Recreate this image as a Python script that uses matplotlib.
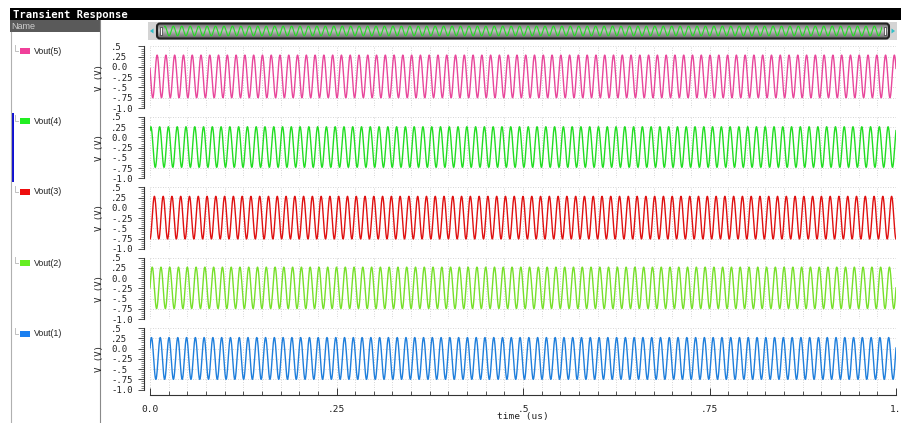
import numpy as np
import matplotlib
matplotlib.use("Agg")
import matplotlib.pyplot as plt
from matplotlib.patches import Rectangle, FancyBboxPatch, Polygon
from matplotlib.ticker import MultipleLocator

# ---------------- data ----------------
signal_names = ["Vout(5)", "Vout(4)", "Vout(3)", "Vout(2)", "Vout(1)"]
line_colors = ["#e8479b", "#22dd22", "#e01010", "#77e02a", "#1f7fdc"]
legend_colors = ["#f0409a", "#22ee22", "#ee0d0d", "#66ee22", "#1a7ff0"]
peak_v = [0.29, 0.26, 0.28, 0.27, 0.27]
trough_v = [-0.75, -0.73, -0.76, -0.74, -0.75]
phase_deg = [68, -36, 180, -90, -60]
freq_cycles_per_us = 85.0
t_us = np.linspace(0.0, 1.0, 6000)

y_ticks = [0.5, 0.25, 0.0, -0.25, -0.5, -0.75, -1.0]
y_tick_labels = [".5", ".25", "0.0", "-.25", "-.5", "-.75", "-1.0"]
x_ticks = [0.0, 0.25, 0.5, 0.75, 1.0]
x_tick_labels = ["0.0", ".25", ".5", ".75", "1."]


def waveform(i):
    mid = (peak_v[i] + trough_v[i]) / 2
    amp = (peak_v[i] - trough_v[i]) / 2
    return mid + amp * np.cos(2 * np.pi * freq_cycles_per_us * t_us + np.deg2rad(phase_deg[i]))


# ---------------- layout ----------------
W, H = 901, 423
fig = plt.figure(figsize=(W / 100, H / 100), dpi=100)
fig.patch.set_facecolor("white")


def rect(x0, y0, x1, y1):
    return [x0 / W, 1 - y1 / H, (x1 - x0) / W, (y1 - y0) / H]


MONO = "DejaVu Sans Mono"

# background / chrome axes in pixel coordinates
bg = fig.add_axes([0, 0, 1, 1], zorder=0)
bg.set_xlim(0, W)
bg.set_ylim(H, 0)
bg.axis("off")
bg.add_patch(Rectangle((10, 8), W - 10, 12, facecolor="black", edgecolor="none"))
bg.text(13, 14.5, "Transient Response", color="white", fontsize=7.6, fontweight="bold",
        family=MONO, va="center", ha="left")
bg.add_patch(Rectangle((10, 20), 90, 12, facecolor="#5a5a5a", edgecolor="none"))
bg.text(11, 26.5, "Name", color="#cfcfcf", fontsize=6.5, va="center", ha="left",
        family="Liberation Sans")
bg.plot([10.5, 10.5], [32, H], color="#b0b0b0", lw=0.8)
bg.plot([99.5, 99.5], [20, H], color="#8a8a8a", lw=0.8)

legend_y = [51, 121, 192, 263, 334]
for name, col, yy in zip(signal_names, legend_colors, legend_y):
    bg.plot([15, 15, 18], [yy - 6, yy, yy], color="#c0c0c0", lw=0.7)
    bg.add_patch(Rectangle((20, yy - 3.2), 9.5, 6.4, facecolor=col, edgecolor="none"))
    bg.text(34, yy, name, fontsize=6.3, family="Liberation Sans", va="center", ha="left",
            color="#222222")
bg.add_patch(Rectangle((11, 113), 2.5, 69, facecolor="#1010d0", edgecolor="none"))

# scrollbar with thumbnail
bg.add_patch(Rectangle((148, 22), 749, 18, facecolor="#d4d4d4", edgecolor="none"))
grad = np.abs(np.linspace(-1, 1, 32))[:, None] * np.ones((1, 4))
bar = FancyBboxPatch((157, 23.5), 732, 15, boxstyle="round,pad=0,rounding_size=3",
                     facecolor="none", edgecolor="#222222", lw=1.5, zorder=3)
bg.add_patch(bar)
img = bg.imshow(grad, extent=(157, 889, 38.5, 23.5), cmap="Greys", vmin=-1.167, vmax=2.167,
                aspect="auto", zorder=2)
img.set_clip_path(bar)
bg.set_xlim(0, W)
bg.set_ylim(H, 0)
bg.add_patch(Polygon([[150, 31], [153.5, 28.5], [153.5, 33.5]], closed=True,
                     facecolor="#30c0c8", edgecolor="none"))
bg.add_patch(Polygon([[895, 31], [891.5, 28.5], [891.5, 33.5]], closed=True,
                     facecolor="#30c0c8", edgecolor="none"))
bg.add_patch(Rectangle((160, 27), 2, 8, facecolor="white", edgecolor="#333333", lw=0.5, zorder=4))
bg.add_patch(Rectangle((884, 27), 2, 8, facecolor="white", edgecolor="#333333", lw=0.5, zorder=4))

thumb = fig.add_axes(rect(164, 25, 882, 37), zorder=2)
thumb.plot(t_us, waveform(1), color=line_colors[1], lw=0.8)
thumb.set_xlim(0, 1)
thumb.set_ylim(-0.85, 0.38)
thumb.axis("off")

# ---------------- signal panels ----------------
panel_top0 = 46.5
panel_step = 70.4
panel_h = 61.5
axes = []
for i in range(5):
    top = panel_top0 + panel_step * i
    ax = fig.add_axes(rect(150, top, 896, top + panel_h), zorder=3)
    ax.patch.set_alpha(0)
    ax.plot(t_us, waveform(i), color=line_colors[i], lw=1.0)
    ax.set_xlim(0, 1)
    ax.set_ylim(-1.0, 0.5)
    for s in ["top", "right", "bottom"]:
        ax.spines[s].set_visible(False)
    ax.spines["left"].set_position(("outward", 4.5))
    ax.spines["left"].set_color("#333333")
    ax.spines["left"].set_linewidth(0.8)
    ax.set_yticks(y_ticks, y_tick_labels)
    ax.yaxis.set_minor_locator(MultipleLocator(0.05))
    ax.tick_params(axis="y", which="major", length=4, width=0.6, color="#333333",
                   pad=19.5, labelsize=6.5, labelcolor="#222222")
    ax.tick_params(axis="y", which="minor", length=2.5, width=0.5, color="#555555")
    for lbl in ax.get_yticklabels():
        lbl.set_ha("left")
        lbl.set_family(MONO)
    ax.xaxis.set_major_locator(MultipleLocator(0.025))
    ax.tick_params(axis="x", which="both", length=0, labelbottom=False)
    ax.grid(True, which="major", axis="both", linestyle=(0, (1, 2)), color="#c8c8c8", lw=0.6)
    ax.set_axisbelow(True)
    ax.set_ylabel("V (V)", fontsize=6.5, family=MONO, color="#222222")
    ax.yaxis.set_label_coords(-0.062, 0.5)
    axes.append(ax)

# ---------------- shared time axis ----------------
xa = fig.add_axes(rect(150, 389, 896, 395), zorder=3)
xa.patch.set_alpha(0)
xa.set_xlim(0, 1)
xa.set_ylim(0, 1)
for s in ["top", "right", "left"]:
    xa.spines[s].set_visible(False)
xa.spines["bottom"].set_color("#333333")
xa.spines["bottom"].set_linewidth(0.8)
xa.set_yticks([])
xa.set_xticks(x_ticks, x_tick_labels)
xa.xaxis.set_minor_locator(MultipleLocator(0.025))
xa.tick_params(axis="x", which="major", direction="in", length=5, width=0.7, color="#333333",
               pad=7, labelsize=6.8, labelcolor="#222222")
xa.tick_params(axis="x", which="minor", direction="in", length=3, width=0.6, color="#333333")
for lbl in xa.get_xticklabels():
    lbl.set_family(MONO)
xa.set_xlabel("time (us)", fontsize=6.8, family=MONO, color="#222222", labelpad=-1)

fig.savefig("out.png", dpi=100, facecolor="white")
